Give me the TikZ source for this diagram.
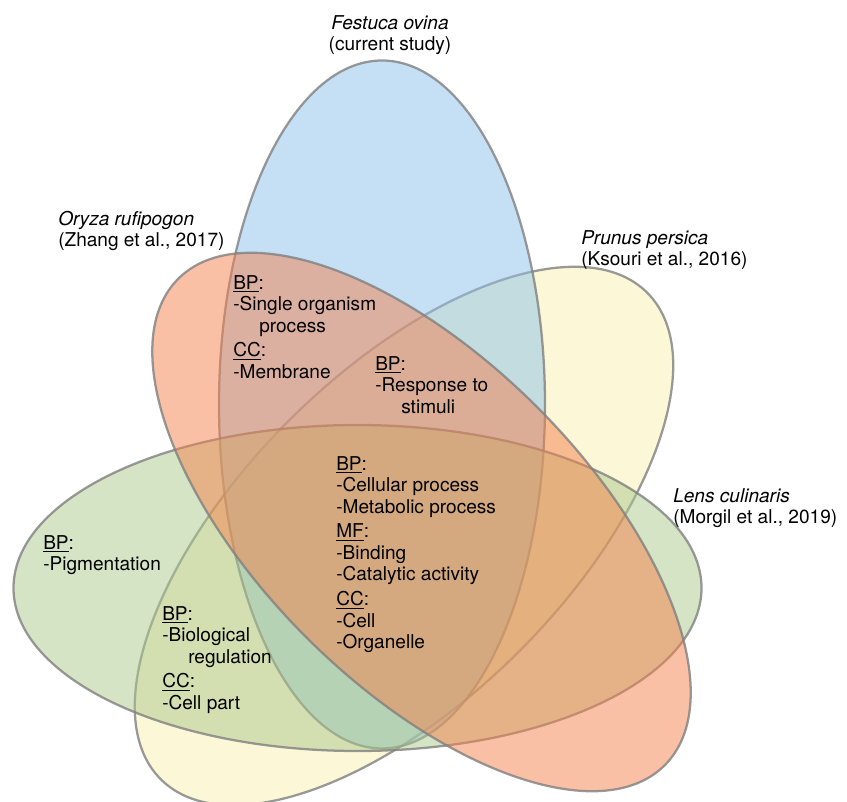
\documentclass[tikz,border=0pt]{standalone}
\usepackage{fontspec}
\setmainfont{TeX Gyre Heros}
\usetikzlibrary{shapes.geometric}
\definecolor{fesblue}{RGB}{139,193,233}
\definecolor{oryred}{RGB}{245,129,77}
\definecolor{prunyellow}{RGB}{249,239,173}
\definecolor{lensgreen}{RGB}{171,201,139}
\newcommand{\hd}[1]{\underline{#1}:}
\tikzset{
  venn/.style={ellipse, draw=black!50, line width=1.7pt, draw opacity=0.8, fill opacity=0.5, inner sep=0pt, minimum width=516pt, minimum height=244.5pt},
  species/.style={font=\fontsize{14.3}{16.1}\selectfont, inner sep=0pt, align=left, anchor=north west},
  terms/.style={font=\fontsize{14.3}{16.1}\selectfont, inner sep=0pt, align=left, anchor=north west}
}
\begin{document}
\begin{tikzpicture}[x=0.75pt, y=-0.75pt]
\useasboundingbox (0,0) rectangle (847,802);
\node[venn, fill=prunyellow, rotate=45] (prunus) at (404,536) {};
\node[venn, fill=fesblue, rotate=90] (festuca) at (382,404.5) {};
\node[venn, fill=lensgreen] (lens) at (357.5,588) {};
\node[venn, fill=oryred, rotate=-45] (oryza) at (421.5,522) {};
\node[species, anchor=north, align=center] (lblfes) at (390,15) {\textit{Festuca ovina}\\(current study)};
\node[species] (lblory) at (58,211) {\textit{Oryza rufipogon}\\(Zhang et al., 2017)};
\node[species] (lblpru) at (581,230) {\textit{Prunus persica}\\(Ksouri et al., 2016)};
\node[species] (lbllens) at (673,488) {\textit{Lens culinaris}\\(Morgil et al., 2019)};
\node[terms] (fesory) at (233,275) {\hd{BP}\\-Single organism\\\hspace*{19.5pt}process\\[2.5pt]\hd{CC}\\-Membrane};
\node[terms] (fesorypru) at (375,356) {\hd{BP}\\-Response to\\\hspace*{19.5pt}stimuli};
\node[terms] (allfour) at (336,456) {\hd{BP}\\-Cellular process\\-Metabolic process\\[2.5pt]\hd{MF}\\-Binding\\-Catalytic activity\\[2.5pt]\hd{CC}\\-Cell\\-Organelle};
\node[terms] (lensonly) at (43,535) {\hd{BP}\\-Pigmentation};
\node[terms] (prulens) at (162,606) {\hd{BP}\\-Biological\\\hspace*{19.5pt}regulation\\[2.5pt]\hd{CC}\\-Cell part};
\end{tikzpicture}
\end{document}
